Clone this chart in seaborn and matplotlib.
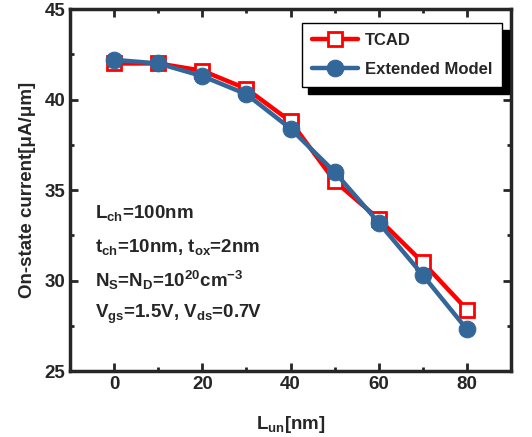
import pandas as pd
import matplotlib.pyplot as plt
import seaborn as sns
from matplotlib.ticker import MultipleLocator

sns.set_style("ticks")
plt.rcParams['font.family'] = ['Liberation Sans', 'DejaVu Sans']
plt.rcParams['font.weight'] = 'bold'
plt.rcParams['mathtext.fontset'] = 'custom'
plt.rcParams['mathtext.rm'] = 'Liberation Sans:bold'
plt.rcParams['mathtext.it'] = 'Liberation Sans:bold'
plt.rcParams['mathtext.bf'] = 'Liberation Sans:bold'

l_un = [0, 10, 20, 30, 40, 50, 60, 70, 80]
tcad = [42.0, 42.0, 41.6, 40.6, 38.8, 35.5, 33.4, 31.0, 28.4]
model = [42.2, 42.0, 41.3, 40.3, 38.4, 36.0, 33.2, 30.3, 27.3]

df = pd.DataFrame({
    "L_un": l_un * 2,
    "I_on": tcad + model,
    "src": ["TCAD"] * len(l_un) + ["Extended Model"] * len(l_un),
})

fig = plt.figure(figsize=(5.32, 4.37), dpi=100)
ax = fig.add_axes([0.1316, 0.151, 0.829, 0.828])

sns.lineplot(data=df[df.src == "TCAD"], x="L_un", y="I_on", color="#ff0000",
             lw=3.2, marker="s", markersize=10, markerfacecolor="white",
             markeredgecolor="#ff0000", markeredgewidth=2, label="TCAD", ax=ax)
sns.lineplot(data=df[df.src == "Extended Model"], x="L_un", y="I_on", color="#336699",
             lw=3.2, marker="o", markersize=12, markerfacecolor="#336699",
             markeredgecolor="#336699", label="Extended Model", ax=ax)

ax.set_xlim(-10, 90)
ax.set_ylim(25, 45)
ax.xaxis.set_major_locator(MultipleLocator(20))
ax.xaxis.set_minor_locator(MultipleLocator(10))
ax.yaxis.set_major_locator(MultipleLocator(5))
ax.yaxis.set_minor_locator(MultipleLocator(2.5))
ax.tick_params(which="both", direction="in", top=True, right=True, width=2,
               labelsize=13.5)
ax.tick_params(which="major", length=6)
ax.tick_params(which="minor", length=3)
for s in ax.spines.values():
    s.set_linewidth(2.5)

ax.set_xlabel(r"L$_{\mathregular{un}}$[nm]", fontsize=13.5, fontweight="bold", labelpad=15)
ax.set_ylabel("On-state current[μA/μm]", fontsize=13.5, fontweight="bold", labelpad=6)

lines = [
    (33.45, r"L$_{\mathregular{ch}}$=100nm"),
    (31.57, r"t$_{\mathregular{ch}}$=10nm, t$_{\mathregular{ox}}$=2nm"),
    (29.64, r"N$_{\mathregular{S}}$=N$_{\mathregular{D}}$=10$^{\mathregular{20}}$cm$^{\mathregular{-3}}$"),
    (27.93, r"V$_{\mathregular{gs}}$=1.5V, V$_{\mathregular{ds}}$=0.7V"),
]
for yy, s in lines:
    ax.text(-4.3, yy, s, fontsize=13.5, fontweight="bold", va="baseline")

leg = ax.legend(loc="upper right", bbox_to_anchor=(0.98, 0.962), borderaxespad=0,
                fontsize=12, frameon=True, fancybox=False,
                shadow={"color": "black", "alpha": 1, "ox": 5, "oy": -5},
                handlelength=2.8, handletextpad=0.4, borderpad=0.6,
                labelspacing=0.85)
leg.get_frame().set_edgecolor("black")
leg.get_frame().set_linewidth(1)
for t in leg.get_texts():
    t.set_fontweight("bold")

fig.savefig("out.png", dpi=100)
